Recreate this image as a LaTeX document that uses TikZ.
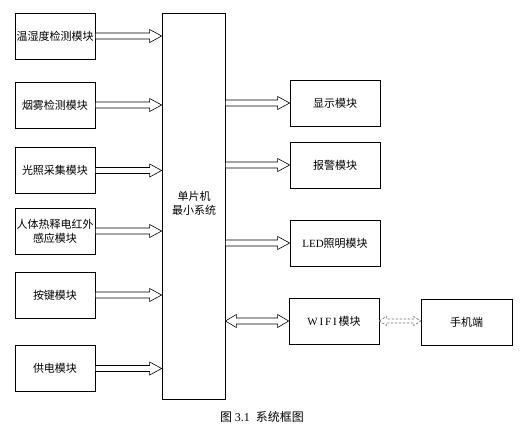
\documentclass[tikz,border=0pt]{standalone}
\usepackage{fontspec}
\setmainfont{Liberation Serif}
\newfontfamily\cjk{Noto Sans CJK SC}
\usetikzlibrary{calc}
\tikzset{
  box/.style={draw, line width=0.7pt, minimum width=80pt, minimum height=46pt, inner sep=0pt, align=center,
    font=\cjk\fontsize{11}{14}\selectfont},
  rbox/.style={box, minimum width=90pt},
  hollow/.style={draw=black, line width=0.6pt, fill=white},
  dashedarrow/.style={draw=black!55, dash pattern=on 2.5pt off 1.5pt, line width=0.7pt},
  captext/.style={font=\cjk\fontsize{11}{14}\selectfont}
}
% single hollow arrow, horizontal, pointing toward #3
\newcommand\sarrow[6][]{%
  \path (#2) coordinate (sA) (#3) coordinate (sB);
  \draw[hollow,#1] let \p1=(sA), \p2=(sB) in
    (\x1,\y1+#4) -- (\x2-#6,\y1+#4) -- (\x2-#6,\y1+#5) -- (\x2,\y1) -- (\x2-#6,\y1-#5) -- (\x2-#6,\y1-#4) -- (\x1,\y1-#4) -- cycle;}
% double hollow arrow
\newcommand\darrow[6][]{%
  \path (#2) coordinate (dA) (#3) coordinate (dB);
  \draw[hollow,#1] let \p1=(dA), \p2=(dB) in
    (\x1,\y1) -- (\x1+#6,\y1+#5) -- (\x1+#6,\y1+#4) -- (\x2-#6,\y1+#4) -- (\x2-#6,\y1+#5) -- (\x2,\y1)
    -- (\x2-#6,\y1-#5) -- (\x2-#6,\y1-#4) -- (\x1+#6,\y1-#4) -- (\x1+#6,\y1-#5) -- cycle;}
\begin{document}
\begin{tikzpicture}[x=1pt,y=-1pt]
\useasboundingbox (0,0) rectangle (523,432);
% MCU
\node[box, minimum width=63pt, minimum height=386pt] (mcu) at (193.5,206) {};
\node[captext, align=center] (mcut) at (194,203) {单片机\\最小系统};
% left modules
\node[box] (t1) at (55,36) {温湿度检测模块};
\node[box] (t2) at (55,105) {烟雾检测模块};
\node[box] (t3) at (55,170.5) {光照采集模块};
\node[box] (t4) at (55,231) {人体热释电红外\\感应模块};
\node[box] (t5) at (55,295) {按键模块};
\node[box] (t6) at (55,368.5) {供电模块};
% right modules
\node[rbox] (r1) at (335,103) {显示模块};
\node[rbox] (r2) at (335,165) {报警模块};
\node[rbox] (r3) at (335,243) {{\rmfamily LED}照明模块};
\node[rbox] (r4) at (334,321) {{\rmfamily W\,I\,F\,I\,}模块};
\node[rbox, minimum width=91pt] (r5) at (466.5,322.5) {手机端};
% arrows in
\sarrow{t1.east}{mcu.west |- t1.east}{3pt}{6.5pt}{12pt}
\sarrow{t2.east}{mcu.west |- t2.east}{3pt}{6.5pt}{12pt}
\sarrow{t3.east}{mcu.west |- t3.east}{3pt}{6.5pt}{12pt}
\sarrow{t4.east}{mcu.west |- t4.east}{3pt}{6.5pt}{12pt}
\sarrow{t5.east}{mcu.west |- t5.east}{3pt}{6.5pt}{12pt}
\sarrow{t6.east}{mcu.west |- t6.east}{3pt}{6.5pt}{12pt}
% arrows out
\sarrow{mcu.east |- r1.west}{r1.west}{3pt}{6.5pt}{12pt}
\sarrow{mcu.east |- r2.west}{r2.west}{3pt}{6.5pt}{12pt}
\sarrow{mcu.east |- r3.west}{r3.west}{3pt}{6.5pt}{12pt}
\darrow{mcu.east |- r4.west}{r4.west}{3pt}{6.5pt}{11pt}
\darrow[dashedarrow]{r4.east}{r5.west |- r4.east}{2pt}{4.5pt}{7pt}
% caption
\node[captext, font=\cjk\fontsize{12}{14}\selectfont] (caption) at (262,417) {图 {\rmfamily 3.1}\hspace{0.5em}系统框图};
\end{tikzpicture}
\end{document}
